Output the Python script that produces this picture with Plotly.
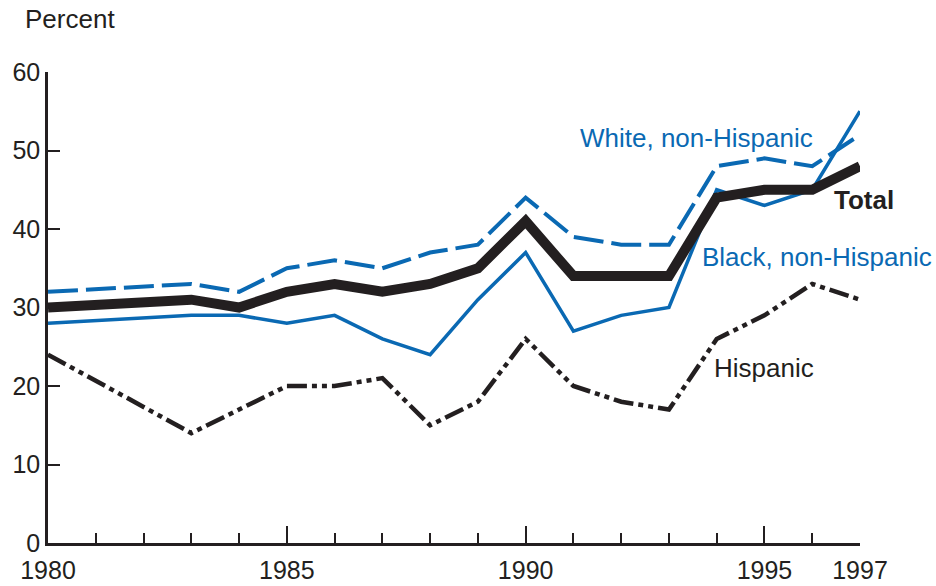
# %% Imports
import plotly.graph_objects as go

# %% Data (percent)
years = [1980, 1983, 1984, 1985, 1986, 1987, 1988, 1989, 1990,
         1991, 1992, 1993, 1994, 1995, 1996, 1997]
total = [30, 31, 30, 32, 33, 32, 33, 35, 41, 34, 34, 34, 44, 45, 45, 48]
white = [32, 33, 32, 35, 36, 35, 37, 38, 44, 39, 38, 38, 48, 49, 48, 52]
black = [28, 29, 29, 28, 29, 26, 24, 31, 37, 27, 29, 30, 45, 43, 45, 55]
hispanic = [24, 14, 17, 20, 20, 21, 15, 18, 26, 20, 18, 17, 26, 29, 33, 31]

x_labels = [1980, 1985, 1990, 1995, 1997]
y_ticks = [0, 10, 20, 30, 40, 50, 60]

BLUE = "#0a69b3"
DARK = "#231f20"
FONT = "Arial, Liberation Sans, sans-serif"

# %% Figure
fig = go.Figure()

fig.add_trace(go.Scatter(x=years, y=hispanic, mode="lines",
                         line=dict(color=DARK, width=4.5,
                                   dash="20px,5px,5px,5px,5px,5px")))
fig.add_trace(go.Scatter(x=years, y=black, mode="lines",
                         line=dict(color=BLUE, width=3.5)))
fig.add_trace(go.Scatter(x=years, y=white, mode="lines",
                         line=dict(color=BLUE, width=4, dash="30px,8px")))
fig.add_trace(go.Scatter(x=years, y=total, mode="lines",
                         line=dict(color=DARK, width=10)))

# series labels
labels = [
    ("White, non-Hispanic", 1991.1, 51.6, BLUE, False),
    ("Total", 1996.42, 43.7, DARK, True),
    ("Black, non-Hispanic", 1993.65, 36.4, BLUE, False),
    ("Hispanic", 1993.9, 22.3, DARK, False),
]
for txt, lx, ly, col, bold in labels:
    fig.add_annotation(x=lx, y=ly, text=f"<b>{txt}</b>" if bold else txt,
                       showarrow=False, xanchor="left", yanchor="middle",
                       font=dict(size=26, color=col, family=FONT))

fig.add_annotation(x=0, y=1, xref="paper", yref="paper", text="Percent",
                   showarrow=False, xanchor="left", yanchor="middle",
                   xshift=-25, yshift=53,
                   font=dict(size=26, color=DARK, family=FONT))

fig.update_xaxes(range=[1980, 1997], tickvals=x_labels,
                 ticktext=[str(v) for v in x_labels],
                 ticks="inside", ticklen=17, tickwidth=2, tickcolor=DARK,
                 minor=dict(dtick=1, tick0=1980, ticks="inside", ticklen=10,
                            tickwidth=2, tickcolor=DARK, showgrid=False),
                 showline=True, linecolor=DARK, linewidth=2.5,
                 showgrid=False, zeroline=False, automargin=False,
                 ticklabelstandoff=3,
                 tickfont=dict(size=25, color=DARK, family=FONT))
fig.update_yaxes(range=[0, 60], tickvals=y_ticks,
                 ticks="inside", ticklen=12, tickwidth=2, tickcolor=DARK,
                 showline=True, linecolor=DARK, linewidth=2.5,
                 showgrid=False, zeroline=False, automargin=False,
                 tickfont=dict(size=25, color=DARK, family=FONT))

fig.update_layout(width=936, height=586, showlegend=False,
                  plot_bgcolor="white", paper_bgcolor="white",
                  margin=dict(l=48, r=76, t=72, b=43))

# drop the default 8px body margin so the figure fills the window
fig.write_html("out.html", config={"displayModeBar": False},
               post_script="document.body.style.margin='0';")
